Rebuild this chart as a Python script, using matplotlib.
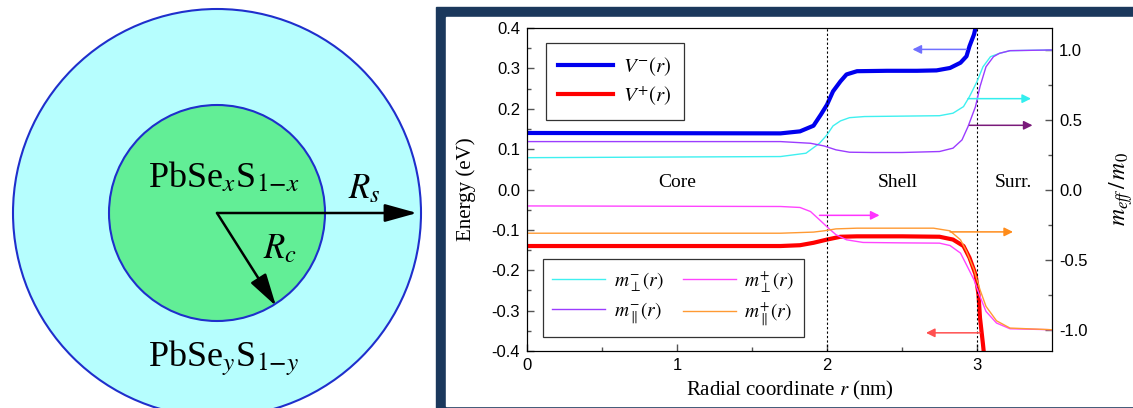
import matplotlib
matplotlib.use('Agg')
import matplotlib.pyplot as plt
from matplotlib import patches

plt.rcParams['mathtext.fontset'] = 'stix'
plt.rcParams['font.family'] = ['Liberation Serif', 'DejaVu Serif']

# potentials (eV) vs radial coordinate (nm)
r_vm = [0, 1.69, 1.82, 1.91, 1.96, 2.0, 2.04, 2.09, 2.13, 2.2, 2.4, 2.6, 2.73, 2.82, 2.89, 2.93, 2.95, 2.98, 2.99, 3.0]
v_minus = [0.14, 0.139, 0.144, 0.158, 0.186, 0.21, 0.243, 0.268, 0.285, 0.293, 0.294, 0.294, 0.295, 0.301, 0.314, 0.33, 0.355, 0.384, 0.40, 0.42]
r_vp = [0, 1.69, 1.82, 1.91, 2.0, 2.09, 2.2, 2.5, 2.75, 2.84, 2.91, 2.95, 2.99, 3.01, 3.02, 3.04, 3.05]
v_plus = [-0.14, -0.14, -0.138, -0.132, -0.124, -0.117, -0.116, -0.116, -0.117, -0.124, -0.14, -0.169, -0.21, -0.26, -0.318, -0.384, -0.42]

# effective masses (m_eff / m0)
r_perp_m = [0, 1.69, 1.86, 1.95, 2.0, 2.04, 2.09, 2.15, 2.25, 2.5, 2.75, 2.84, 2.91, 2.95, 3.0, 3.04, 3.09, 3.15, 3.22, 3.5]
m_perp_minus = [0.23, 0.238, 0.262, 0.333, 0.393, 0.457, 0.493, 0.516, 0.524, 0.527, 0.53, 0.548, 0.595, 0.667, 0.774, 0.88, 0.952, 0.976, 0.995, 1.0]
r_par_m = [0, 1.69, 1.89, 1.98, 2.06, 2.15, 2.3, 2.5, 2.75, 2.84, 2.9, 2.94, 2.99, 3.02, 3.06, 3.11, 3.15, 3.22, 3.5]
m_par_minus = [0.345, 0.345, 0.333, 0.314, 0.286, 0.269, 0.267, 0.267, 0.274, 0.298, 0.357, 0.452, 0.595, 0.738, 0.88, 0.952, 0.976, 0.995, 1.0]
r_perp_p = [0, 1.69, 1.82, 1.89, 1.95, 2.01, 2.06, 2.13, 2.24, 2.5, 2.75, 2.82, 2.89, 2.93, 2.98, 3.02, 3.06, 3.13, 3.22, 3.5]
m_perp_plus = [-0.115, -0.119, -0.126, -0.155, -0.214, -0.274, -0.321, -0.357, -0.376, -0.379, -0.381, -0.398, -0.452, -0.536, -0.643, -0.762, -0.869, -0.952, -0.993, -1.0]
r_par_p = [0, 1.69, 1.91, 1.98, 2.06, 2.2, 2.5, 2.71, 2.82, 2.89, 2.93, 2.98, 3.02, 3.06, 3.13, 3.22, 3.5]
m_par_plus = [-0.31, -0.31, -0.302, -0.293, -0.279, -0.274, -0.274, -0.274, -0.293, -0.357, -0.44, -0.571, -0.714, -0.833, -0.936, -0.988, -1.0]

# arrows pointing to the axis each curve belongs to: start r, end r, energy level
arrow_r0 = [2.93, 2.94, 2.95, 1.95, 2.82, 3.02]
arrow_r1 = [2.57, 3.36, 3.37, 2.35, 3.24, 2.66]
arrow_e = [0.347, 0.225, 0.159, -0.064, -0.105, -0.355]
arrow_col = ['#7070ff', '#33eeee', '#7a1a7a', '#ff33ff', '#ff8c1a', '#ff5050']

region_names = ['Core', 'Shell', 'Surr.']
region_r = [1.0, 2.47, 3.24]

fig = plt.figure(figsize=(11.33, 4.08), dpi=100)
W, H = 1133, 408

# dark frame around the plot panel
fig.patches.append(patches.Rectangle((436 / W, 0), (W - 436) / W, (H - 7) / H,
                                     transform=fig.transFigure, color='#1b385c', zorder=-10))
fig.patches.append(patches.Rectangle((446 / W, 2 / H), (W - 446) / W, (H - 17 - 2) / H,
                                     transform=fig.transFigure, color='white', zorder=-9))

# schematic of the core/shell dot
ax0 = fig.add_axes([0, 0, 440 / W, 1])
ax0.set_xlim(0, 440)
ax0.set_ylim(408, 0)
ax0.axis('off')
cx, cy = 217, 213
ax0.add_patch(patches.Circle((cx, cy), 204, facecolor='#b6fefe', edgecolor='#1f2fcc', lw=1.5))
ax0.add_patch(patches.Circle((cx, cy), 108, facecolor='#62ee96', edgecolor='#1f2fcc', lw=1.5))
head = dict(arrowstyle='-|>,head_length=0.9,head_width=0.25', color='black', lw=1.8,
            mutation_scale=22, shrinkA=0, shrinkB=0)
ax0.annotate('', xy=(417, cy), xytext=(cx, cy), arrowprops=head)
ax0.annotate('', xy=(276, 306), xytext=(cx, cy), arrowprops=head)
ax0.text(224, 178, r'PbSe$_x$S$_{1\mathrm{-}x}$', fontsize=26, ha='center', va='center')
ax0.text(224, 358, r'PbSe$_y$S$_{1\mathrm{-}y}$', fontsize=26, ha='center', va='center')
ax0.text(364, 190, r'$R_s$', fontsize=25, ha='center', va='center')
ax0.text(280, 250, r'$R_c$', fontsize=25, ha='center', va='center')

# energy / mass plot
ax = fig.add_axes([527 / W, (H - 351) / H, 525 / W, 323 / H])
ax2 = ax.twinx()

l_vm, = ax.plot(r_vm, v_minus, color='#0000ee', lw=3, label=r'$V^{-}(r)$')
l_vp, = ax.plot(r_vp, v_plus, color='#ff0000', lw=3, label=r'$V^{+}(r)$')

l1, = ax2.plot(r_perp_m, m_perp_minus, color='#3ff0f0', lw=1, label=r'$m_{\perp}^{-}(r)$')
l2, = ax2.plot(r_perp_p, m_perp_plus, color='#ff44ff', lw=1, label=r'$m_{\perp}^{+}(r)$')
l3, = ax2.plot(r_par_m, m_par_minus, color='#9b3cff', lw=1, label=r'$m_{\parallel}^{-}(r)$')
l4, = ax2.plot(r_par_p, m_par_plus, color='#ff9a33', lw=1, label=r'$m_{\parallel}^{+}(r)$')

for xv in [2, 3]:
    ax.axvline(xv, color='black', lw=0.8, ls=(0, (2, 2)))

for r0, r1, e, c in zip(arrow_r0, arrow_r1, arrow_e, arrow_col):
    ax2.annotate('', xy=(r1, e), xytext=(r0, e), xycoords=ax.transData, textcoords=ax.transData,
                 arrowprops=dict(arrowstyle='-|>', color=c, lw=1.1, mutation_scale=13,
                                 shrinkA=0, shrinkB=0))

for name, rx in zip(region_names, region_r):
    ax.text(rx, 0.018, name, fontsize=14, ha='center', va='center')

ax.set_xlim(0, 3.5)
ax.set_ylim(-0.4, 0.4)
ax2.set_ylim(-1.152, 1.157)
ax.set_xticks([0, 1, 2, 3])
ax.set_xticks([0.5, 1.5, 2.5], minor=True)
ax.set_yticks([-0.4, -0.3, -0.2, -0.1, 0.0, 0.1, 0.2, 0.3, 0.4])
ax.set_yticks([-0.35, -0.25, -0.15, -0.05, 0.05, 0.15, 0.25, 0.35], minor=True)
ax.set_yticklabels(['-0.4', '-0.3', '-0.2', '-0.1', '0.0', '0.1', '0.2', '0.3', '0.4'])
ax2.set_yticks([-1.0, -0.5, 0.0, 0.5, 1.0])
ax2.set_yticks([-0.75, -0.25, 0.25, 0.75], minor=True)
ax2.set_yticklabels(['-1.0', '-0.5', '0.0', '0.5', '1.0'])

for a in (ax, ax2):
    a.tick_params(which='both', direction='in', color='#555555', labelsize=12,
                  labelfontfamily='Liberation Sans')
    a.tick_params(which='major', length=5, width=1)
    a.tick_params(which='minor', length=3, width=1)
ax.tick_params(axis='x', pad=5)
ax.tick_params(axis='y', pad=5)
ax2.tick_params(axis='y', pad=5)
ax.xaxis.set_ticks_position('bottom')

ax.set_xlabel(r'Radial coordinate $r$ (nm)', fontsize=15, labelpad=4)
ax.set_ylabel('Energy (eV)', fontsize=15, labelpad=11)
ax2.set_ylabel(r'$m_{eff}\,/\,m_0$', fontsize=17, labelpad=14)

leg1 = ax2.legend(handles=[l_vm, l_vp], loc='upper left', bbox_to_anchor=(0.036, 0.954),
                  fontsize=15, frameon=True, fancybox=False, edgecolor='black',
                  handlelength=2.6, handletextpad=0.5, borderpad=0.6, labelspacing=0.3,
                  borderaxespad=0)
leg1.get_frame().set_linewidth(0.9)
ax2.add_artist(leg1)
leg2 = ax2.legend(handles=[l1, l3, l2, l4], loc='upper left', bbox_to_anchor=(0.030, 0.285),
                  ncol=2, fontsize=14, frameon=True, fancybox=False, edgecolor='black',
                  handlelength=2.7, handletextpad=0.45, columnspacing=1.0, borderpad=0.5,
                  labelspacing=0.35, borderaxespad=0)
leg2.get_frame().set_linewidth(0.9)

fig.savefig('out.png', dpi=100)
